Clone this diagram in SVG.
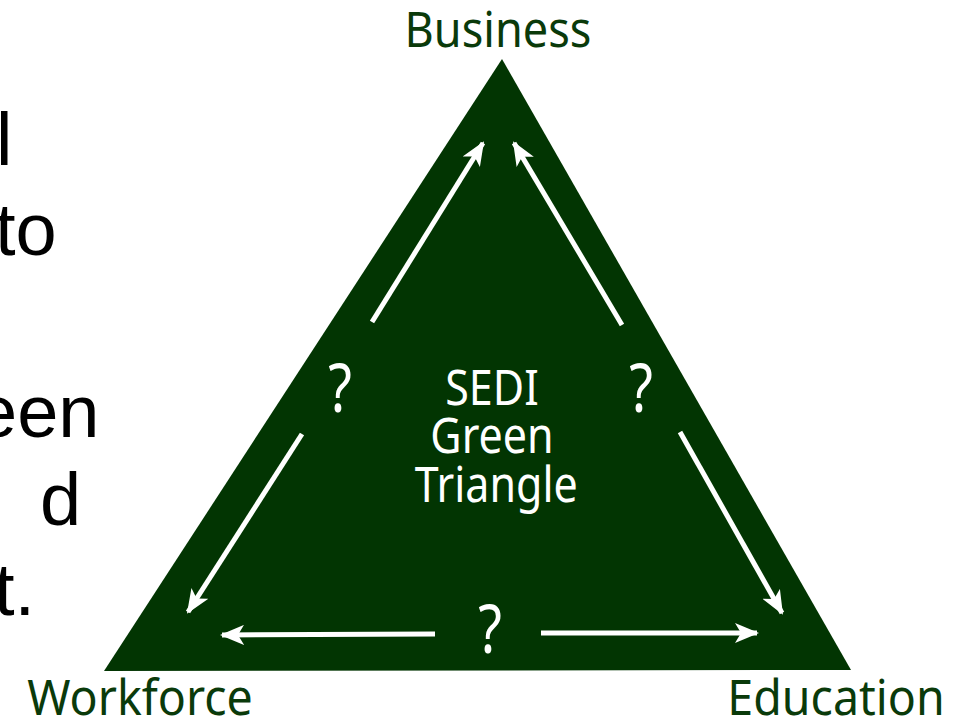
<svg xmlns="http://www.w3.org/2000/svg" width="965" height="720" viewBox="0 0 965 720">
<style>
.side{font-family:"Liberation Sans",Arial,sans-serif;font-size:74px;fill:#000}
.lbl{font-family:"Noto Sans","Open Sans",sans-serif;font-size:49px;fill:#0a3a0a;text-anchor:middle}
.in{font-family:"Noto Sans","Open Sans",sans-serif;font-size:50px;fill:#fff;text-anchor:middle}
.q{font-family:"Noto Sans","Open Sans",sans-serif;font-size:68px;fill:#fff;text-anchor:middle}
.arr{stroke:#fff;stroke-width:5;fill:none;marker-end:url(#ah)}
</style>
<defs>
<marker id="ah" viewBox="0 0 24 20" refX="22" refY="10" markerWidth="24" markerHeight="20" markerUnits="userSpaceOnUse" orient="auto">
<path d="M0,0 L24,10 L0,20 L6,10 Z" fill="#fff"/>
</marker>
</defs>
<rect width="965" height="720" fill="#fff"/>
<g id="side-text">
<text class="side" x="-4" y="165">l</text>
<text class="side" x="-5" y="255">to</text>
<text class="side" x="-24" y="437">een</text>
<text class="side" x="40" y="525">d</text>
<text class="side" x="-6" y="615">t.</text>
</g>
<g id="triangle">
<polygon points="502,59 851,670 104,671" fill="#023502"/>
<g transform="translate(492,0) scale(0.86,1) translate(-492,0)">
<text class="in" x="492" y="405">SEDI</text>
<text class="in" x="492" y="453">Green</text>
<text class="in" x="497" y="502">Triangle</text>
</g>
</g>
<g id="business" transform="translate(498,0) scale(0.92,1) translate(-498,0)"><text class="lbl" x="498" y="47">Business</text></g>
<g id="workforce" transform="translate(140,0) scale(0.95,1) translate(-140,0)"><text class="lbl" x="140" y="715">Workforce</text></g>
<g id="education" transform="translate(836,0) scale(0.95,1) translate(-836,0)"><text class="lbl" x="836" y="715">Education</text></g>
<g id="q-left"><text class="q" x="340" y="412" transform="translate(340,0) scale(0.8,1) translate(-340,0)">?</text></g>
<g id="q-right"><text class="q" x="641" y="412" transform="translate(641,0) scale(0.8,1) translate(-641,0)">?</text></g>
<g id="q-bottom"><text class="q" x="490" y="653" transform="translate(490,0) scale(0.8,1) translate(-490,0)">?</text></g>
<g id="connectors">
<line class="arr" x1="372" y1="322" x2="483" y2="143"/>
<line class="arr" x1="622" y1="325" x2="514" y2="143"/>
<line class="arr" x1="302" y1="434" x2="188" y2="612"/>
<line class="arr" x1="680" y1="432" x2="782" y2="613"/>
<line class="arr" x1="435" y1="634" x2="222" y2="635"/>
<line class="arr" x1="541" y1="633" x2="757" y2="633"/>
</g>
</svg>
